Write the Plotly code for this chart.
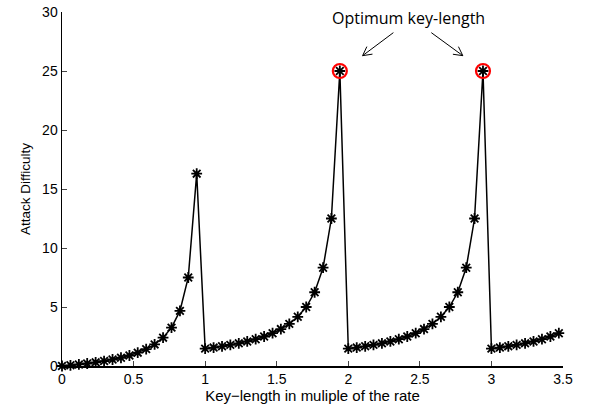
import math
import plotly.graph_objects as go

# Key-length (multiple of the rate) and attack difficulty
key_length = [
    0.000, 0.059, 0.118, 0.176, 0.235, 0.294, 0.353, 0.412, 0.471, 0.529,
    0.588, 0.647, 0.706, 0.765, 0.824, 0.882, 0.941,
    1.000, 1.059, 1.118, 1.176, 1.235, 1.294, 1.353, 1.412, 1.471, 1.529,
    1.588, 1.647, 1.706, 1.765, 1.824, 1.882, 1.941,
    2.000, 2.059, 2.118, 2.176, 2.235, 2.294, 2.353, 2.412, 2.471, 2.529,
    2.588, 2.647, 2.706, 2.765, 2.824, 2.882, 2.941,
    3.000, 3.059, 3.118, 3.176, 3.235, 3.294, 3.353, 3.412, 3.471,
]
difficulty = [
    0.00, 0.06, 0.13, 0.21, 0.31, 0.42, 0.55, 0.70, 0.89, 1.13,
    1.43, 1.83, 2.40, 3.25, 4.67, 7.50, 16.3,
    1.47, 1.56, 1.67, 1.79, 1.92, 2.08, 2.27, 2.50, 2.78, 3.13,
    3.57, 4.17, 5.00, 6.25, 8.33, 12.5, 25.0,
    1.47, 1.56, 1.67, 1.79, 1.92, 2.08, 2.27, 2.50, 2.78, 3.13,
    3.57, 4.17, 5.00, 6.25, 8.33, 12.5, 25.0,
    1.47, 1.56, 1.67, 1.79, 1.92, 2.08, 2.27, 2.50, 2.78,
]
optimum_x = [1.941, 2.941]
optimum_y = [25.0, 25.0]

x_ticks = [0, 0.5, 1, 1.5, 2, 2.5, 3, 3.5]
y_ticks = [0, 5, 10, 15, 20, 25, 30]

X_RANGE = [0, 3.5]
Y_RANGE = [0, 30]
WIDTH, HEIGHT = 589, 407
MARGIN = dict(l=62, r=26, t=12, b=41)

fig = go.Figure()
fig.add_trace(go.Scatter(
    x=key_length, y=difficulty, mode="lines+markers",
    line=dict(color="black", width=1.5),
    marker=dict(symbol="asterisk-open", size=9, color="black",
                line=dict(color="black", width=1.8)),
    cliponaxis=False, showlegend=False, hoverinfo="skip",
))
fig.add_trace(go.Scatter(
    x=optimum_x, y=optimum_y, mode="markers",
    marker=dict(symbol="circle-open", size=14, color="red",
                line=dict(color="red", width=2.2)),
    cliponaxis=False, showlegend=False, hoverinfo="skip",
))

fig.add_annotation(x=2.42, y=29.45, xref="x", yref="y", text="Optimum key-length",
                   showarrow=False, font=dict(family="Open Sans, Carlito, sans-serif",
                                              size=16, color="black"))

# arrows with open V heads (tail -> tip, in data units)
px_x = (WIDTH - MARGIN["l"] - MARGIN["r"]) / (X_RANGE[1] - X_RANGE[0])
px_y = (HEIGHT - MARGIN["t"] - MARGIN["b"]) / (Y_RANGE[1] - Y_RANGE[0])
arrows = [((2.315, 28.25), (2.10, 26.3)), ((2.58, 28.25), (2.80, 26.3))]
for (tx, ty), (hx, hy) in arrows:
    fig.add_shape(type="line", x0=tx, y0=ty, x1=hx, y1=hy,
                  line=dict(color="black", width=1))
    dx, dy = (hx - tx) * px_x, (hy - ty) * px_y
    ang = math.atan2(dy, dx)
    for s in (+1, -1):
        a = ang + math.pi - s * math.radians(28)
        ex = hx + 10 * math.cos(a) / px_x
        ey = hy + 10 * math.sin(a) / px_y
        fig.add_shape(type="line", x0=hx, y0=hy, x1=ex, y1=ey,
                      line=dict(color="black", width=1))

font = "Liberation Sans, Arial, sans-serif"
fig.update_layout(
    width=WIDTH, height=HEIGHT,
    margin=MARGIN,
    plot_bgcolor="white", paper_bgcolor="white",
    font=dict(family=font, size=14, color="black"),
    hovermode=False,
)
fig.update_xaxes(
    range=X_RANGE, tickvals=x_ticks, ticks="inside", ticklen=5, automargin=False,
    showline=True, linecolor="black", linewidth=1.5, showgrid=False, zeroline=False,
    title=dict(text="Key−length in muliple of the rate", standoff=2,
               font=dict(size=15)),
    tickfont=dict(size=14), ticklabeloverflow="allow",
)
fig.update_yaxes(
    range=Y_RANGE, tickvals=y_ticks, ticks="inside", ticklen=5, automargin=False,
    showline=True, linecolor="black", linewidth=1.5, showgrid=False, zeroline=False,
    title=dict(text="Attack Difficulty", standoff=8, font=dict(size=13.5)),
    tickfont=dict(size=14), ticklabeloverflow="allow",
)

fig.write_html("out.html", config={"displayModeBar": False, "staticPlot": True},
               post_script="document.body.style.margin='0';document.body.style.overflow='hidden';")
